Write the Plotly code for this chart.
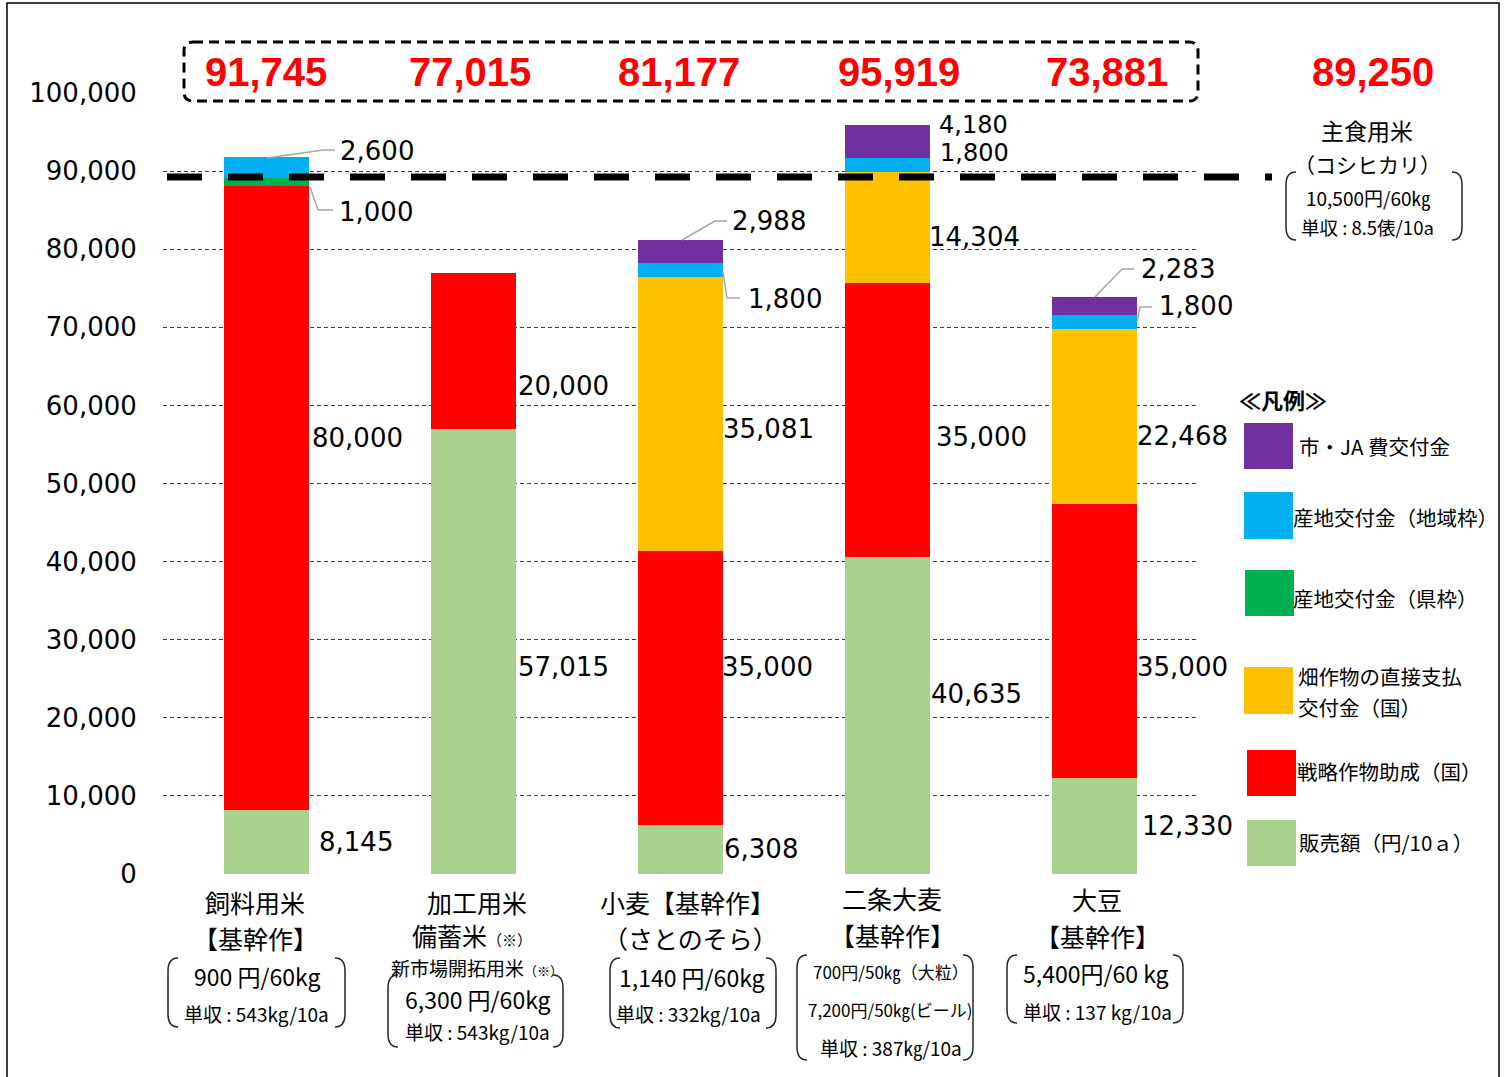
import plotly.graph_objects as go

# ---------------- data ----------------
categories = ["飼料用米", "加工用米", "小麦", "二条大麦", "大豆"]
sales      = [8145, 57015, 6308, 40635, 12330]      # 販売額（円/10a）
strategic  = [80000, 20000, 35000, 35000, 35000]    # 戦略作物助成（国）
upland     = [0, 0, 35081, 14304, 22468]            # 畑作物の直接支払交付金（国）
pref_frame = [1000, 0, 0, 0, 0]                     # 産地交付金（県枠）
area_frame = [2600, 0, 1800, 1800, 1800]            # 産地交付金（地域枠）
city_ja    = [0, 0, 2988, 4180, 2283]               # 市・JA費交付金
totals     = [91745, 77015, 81177, 95919, 73881]
staple_total = 89250                                # 主食用米（コシヒカリ）
y_ticks = [0, 10000, 20000, 30000, 40000, 50000, 60000, 70000, 80000, 90000, 100000]

series_names = ["販売額（円/10ａ）", "戦略作物助成（国）", "畑作物の直接支払<br>交付金（国）",
                "産地交付金（県枠）", "産地交付金（地域枠）", "市・JA 費交付金"]

cat_lines = [
    ["飼料用米", "【基幹作】", "900 円/60kg", "単収 : 543kg/10a"],
    ["加工用米", "備蓄米<span style='font-size:15px'>（※）</span>",
     "新市場開拓用米<span style='font-size:13px'>（※）</span>", "6,300 円/60kg", "単収 : 543kg/10a"],
    ["小麦【基幹作】", "（さとのそら）", "1,140 円/60kg", "単収 : 332kg/10a"],
    ["二条大麦", "【基幹作】", "700円/50㎏（大粒）", "7,200円/50㎏(ビール)", "単収 : 387㎏/10a"],
    ["大豆", "【基幹作】", "5,400円/60 kg", "単収 : 137 kg/10a"],
]
staple_lines = ["主食用米", "（コシヒカリ）", "10,500円/60㎏", "単収 : 8.5俵/10a"]

# ---------------- styling / layout helpers ----------------
colors = ["#A9D18E", "#FF0000", "#FFC000", "#00B050", "#00B0F0", "#7030A0"]
W, H = 1511, 1077
L, R, T, B = 163, 1198, 93, 874
NUM_FONT = "DejaVu Sans, Noto Sans CJK JP"
JP_FONT = "Noto Sans CJK JP, Noto Sans"


def X(px):
    return (px - L) / (R - L)


def Y(py):
    return (B - py) / (B - T)


fig = go.Figure()
series = [sales, strategic, upland, pref_frame, area_frame, city_ja]
for vals, name, col in zip(series, series_names, colors):
    fig.add_trace(go.Bar(x=categories, y=vals, name=name.replace("<br>", ""), marker_color=col,
                         marker_line_width=0, showlegend=False, hoverinfo="y+name"))

shapes = []
annotations = []

# outer frame
shapes.append(dict(type="rect", xref="paper", yref="paper", x0=X(7), x1=X(1499), y0=Y(1090), y1=Y(3),
                   line=dict(color="black", width=1.5), layer="below"))

# main-crop reference line (dashed thick)
shapes.append(dict(type="line", xref="paper", yref="y", x0=X(167), x1=X(1272), y0=staple_total, y1=staple_total,
                   line=dict(color="black", width=7, dash="35px,26px"), layer="above"))

# dashed rounded box around totals
bx0, bx1, by0, by1, rr = 184, 1198, 42, 101, 9
p = (f"M {X(bx0+rr)},{Y(by0)} L {X(bx1-rr)},{Y(by0)} Q {X(bx1)},{Y(by0)} {X(bx1)},{Y(by0+rr)} "
     f"L {X(bx1)},{Y(by1-rr)} Q {X(bx1)},{Y(by1)} {X(bx1-rr)},{Y(by1)} L {X(bx0+rr)},{Y(by1)} "
     f"Q {X(bx0)},{Y(by1)} {X(bx0)},{Y(by1-rr)} L {X(bx0)},{Y(by0+rr)} Q {X(bx0)},{Y(by0)} {X(bx0+rr)},{Y(by0)} Z")
shapes.append(dict(type="path", xref="paper", yref="paper", path=p,
                   line=dict(color="black", width=3, dash="10px,6px"), layer="above"))

# totals in red
TOT_FONT = dict(family="Liberation Sans", size=40, color="#FF0000")
tot_shift = [-1, -4, -2, 11, 12]
for c, t, s in zip(categories, totals, tot_shift):
    annotations.append(dict(x=c, y=Y(72), xref="x", yref="paper", text=f"<b>{t:,}</b>", showarrow=False,
                            xshift=s, font=TOT_FONT, xanchor="center", yanchor="middle"))
annotations.append(dict(x=X(1373), y=Y(72), xref="paper", yref="paper", text=f"<b>{staple_total:,}</b>",
                        showarrow=False, font=TOT_FONT, xanchor="center", yanchor="middle"))

# segment value labels: (series index, category index, label y, x offset from bar edge)
label_spec = [
    (0, 0, 4100, 11), (1, 0, 55800, 4), (3, 0, 84760, 31), (4, 0, 92570, 32),
    (0, 1, 26500, 3), (1, 1, 62480, 3),
    (0, 2, 3200, 2), (1, 2, 26500, 0), (2, 2, 57000, 1), (4, 2, 73620, 26), (5, 2, 83610, 10),
    (0, 3, 23050, 2), (1, 3, 55950, 7), (2, 3, 81560, 0), (4, 3, 92300, 12), (5, 3, 95900, 11),
    (0, 4, 6150, 6), (1, 4, 26500, 1), (2, 4, 56080, 1), (4, 4, 72730, 23), (5, 4, 77460, 5),
]
for si, ci, ly, dx in label_spec:
    tight = (ci == 3 and si in (4, 5))
    annotations.append(dict(x=categories[ci], y=ly, xref="x", yref="y", text=f"{series[si][ci]:,}",
                            showarrow=False, xanchor="left", yanchor="middle", xshift=42 + dx - 3,
                            borderpad=0 if tight else 1,
                            font=dict(family=NUM_FONT, size=24 if tight else 26, color="black")))

# leader lines (pixel polylines)
leaders = [
    [(267, 158), (323, 150), (335, 150)],
    [(310, 187), (318, 210), (333, 210)],
    [(682, 240), (715, 221), (727, 221)],
    [(723, 272), (727, 298), (740, 298)],
    [(1095, 297), (1122, 269), (1134, 269)],
    [(1137, 322), (1140, 307), (1152, 307)],
]
for pts in leaders:
    path = "M " + " L ".join(f"{X(a)},{Y(b)}" for a, b in pts)
    shapes.append(dict(type="path", xref="paper", yref="paper", path=path,
                       line=dict(color="#A6A6A6", width=1.5), layer="above"))


def bracket(x0, x1, y0, y1, r=13, h=10):
    lp = (f"M {X(x0+h)},{Y(y0)} Q {X(x0)},{Y(y0)} {X(x0)},{Y(y0+r)} L {X(x0)},{Y(y1-r)} "
          f"Q {X(x0)},{Y(y1)} {X(x0+h)},{Y(y1)}")
    rp = (f"M {X(x1-h)},{Y(y0)} Q {X(x1)},{Y(y0)} {X(x1)},{Y(y0+r)} L {X(x1)},{Y(y1-r)} "
          f"Q {X(x1)},{Y(y1)} {X(x1-h)},{Y(y1)}")
    for pp in (lp, rp):
        shapes.append(dict(type="path", xref="paper", yref="paper", path=pp,
                           line=dict(color="#262626", width=1.5), layer="above"))


def txt(px, py, text, size, bold=False, anchor="center", color="black", family=JP_FONT):
    if bold:
        text = f"<b>{text}</b>"
    annotations.append(dict(x=X(px), y=Y(py), xref="paper", yref="paper", text=text, showarrow=False,
                            xanchor=anchor, yanchor="middle", align="left" if anchor == "left" else "center",
                            borderpad=0, font=dict(family=family, size=size, color=color)))


# category labels below axis
cat_pos = [
    [(255, 902, 25), (255, 938, 25), (257, 976, 23), (256, 1013, 19)],
    [(477, 902, 25), (472, 935, 25), (477, 967, 19), (478, 999, 23), (477, 1031, 19)],
    [(687, 902, 25), (690, 938, 25), (692, 977, 23), (688, 1013, 19)],
    [(892, 898, 25), (892, 935, 25), (891, 972, 17), (890, 1010, 17), (891, 1047, 19)],
    [(1097, 899, 25), (1097, 936, 25), (1096, 973, 23), (1097, 1011, 19)],
]
for lines, pos in zip(cat_lines, cat_pos):
    for t, (px, py, sz) in zip(lines, pos):
        txt(px, py, t, sz)
bracket(168, 345, 958, 1027)
bracket(388, 563, 975, 1047)
bracket(610, 776, 958, 1028)
bracket(797, 973, 955, 1060)
bracket(1007, 1183, 955, 1023)

# staple rice note
staple_pos = [(1367, 130, 23), (1367, 164, 21), (1368, 197, 19), (1367, 227, 18.5)]
for t, (px, py, sz) in zip(staple_lines, staple_pos):
    txt(px, py, t, sz)
bracket(1286, 1462, 172, 240)

# custom legend
txt(1238, 399, "≪凡例≫", 22, bold=True, anchor="left")
legend_boxes = [  # (series index, x0, y0, x1, y1, text x, text y)
    (5, 1244, 423, 1293, 469, 1298, 446),
    (4, 1244, 492, 1293, 539, 1292, 517),
    (3, 1245, 570, 1294, 616, 1292, 598),
    (2, 1244, 667, 1293, 714, 1297, 676),
    (1, 1247, 750, 1296, 796, 1296, 771),
    (0, 1247, 820, 1296, 866, 1298, 842),
]
for si, x0, y0, x1, y1, tx, ty in legend_boxes:
    shapes.append(dict(type="rect", xref="paper", yref="paper", x0=X(x0), x1=X(x1), y0=Y(y1), y1=Y(y0),
                       fillcolor=colors[si], line=dict(width=0), layer="above"))
    for k, part in enumerate(series_names[si].split("<br>")):
        txt(tx, ty + 31 * k, part, 20.5, anchor="left")

fig.update_layout(
    barmode="stack",
    bargap=0.594,
    width=W, height=H,
    margin=dict(l=L, r=W - R, t=T, b=H - B, pad=0),
    plot_bgcolor="white",
    paper_bgcolor="white",
    shapes=shapes,
    annotations=annotations,
    showlegend=False,
    xaxis=dict(showticklabels=False, showgrid=False, zeroline=False, showline=False, ticks="",
               range=[-0.5, 4.5]),
    yaxis=dict(range=[0, 100000], tickvals=y_ticks, tickformat=",d", showline=False, zeroline=False,
               showgrid=True, gridcolor="#3a3a3a", gridwidth=1, griddash="4px,3px",
               ticks="outside", ticklen=20, tickcolor="rgba(0,0,0,0)",
               tickfont=dict(family=NUM_FONT, size=26, color="black")),
)

fig.write_html("out.html", config={"displayModeBar": False},
               post_script="document.body.style.margin='0';document.body.style.overflow='hidden';")
